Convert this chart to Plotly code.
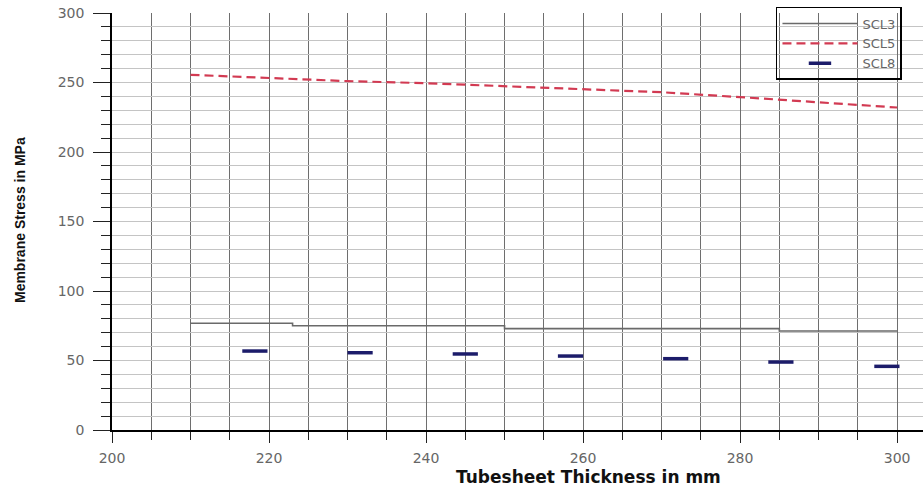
import plotly.graph_objects as go

# ---- data ----
scl3_x = [210, 223, 250, 285, 300]
scl3_y = [76.8, 75.0, 72.9, 71.2, 71.2]

scl5_x = [210, 220, 230, 240, 250, 260, 270, 280, 290, 300]
scl5_y = [255.5, 253.0, 251.0, 249.5, 247.5, 245.5, 243.0, 239.5, 235.8, 232.0]

scl8_x = [218.2, 231.6, 245.0, 258.4, 271.8, 285.2, 298.7]
scl8_y = [56.8, 55.6, 54.7, 53.2, 51.3, 48.9, 45.8]

series_names = ["SCL3", "SCL5", "SCL8"]

x_range = [200, 303.3]
y_range = [0, 300]

fig = go.Figure()

fig.add_trace(go.Scatter(
    x=scl3_x, y=scl3_y, name=series_names[0], mode="lines",
    line=dict(color="#6a6a6a", width=1.6, shape="hv"),
))
fig.add_trace(go.Scatter(
    x=scl5_x, y=scl5_y, name=series_names[1], mode="lines",
    line=dict(color="#d23a52", width=2.2, dash="9px,5px"),
))
fig.add_trace(go.Scatter(
    x=scl8_x, y=scl8_y, name=series_names[2], mode="markers",
    marker=dict(symbol="line-ew", size=18, color="#1c1c6a",
                line=dict(color="#1c1c6a", width=3.5)),
))

tick_font = dict(family="DejaVu Sans", size=14, color="#666666")

fig.update_xaxes(
    range=x_range, dtick=20, tick0=200,
    showline=True, linecolor="black", linewidth=1.5,
    ticks="outside", ticklen=11, tickwidth=1.2, tickcolor="#222222",
    showgrid=True, gridcolor="#6e6e6e", gridwidth=1,
    minor=dict(dtick=5, tick0=200, showgrid=True, gridcolor="#6e6e6e", gridwidth=1,
               ticks="outside", ticklen=8, tickcolor="#222222", tickwidth=1),
    tickfont=tick_font, zeroline=False, ticklabelstandoff=3,
)
fig.update_yaxes(
    range=y_range, dtick=50, tick0=0,
    showline=True, linecolor="black", linewidth=1.5,
    ticks="outside", ticklen=17, tickwidth=1.2, tickcolor="#222222",
    showgrid=True, gridcolor="#c4c4c4", gridwidth=1.2,
    minor=dict(dtick=10, tick0=0, showgrid=True, gridcolor="#c4c4c4", gridwidth=1.2,
               ticks="outside", ticklen=9, tickcolor="#222222", tickwidth=1),
    tickfont=tick_font, zeroline=False, ticklabelstandoff=6,
)

fig.update_layout(
    width=923, height=486,
    margin=dict(l=112, r=0, t=13, b=56),
    paper_bgcolor="white", plot_bgcolor="white",
    showlegend=True,
    legend=dict(
        x=0.8187, y=1.0144, xanchor="left", yanchor="top",
        bgcolor="rgba(255,255,255,0)", bordercolor="black", borderwidth=1.5,
        font=dict(family="DejaVu Sans", size=13, color="#666666"),
        itemwidth=75,
    ),
    annotations=[
        dict(text="<b>Tubesheet Thickness in mm</b>", xref="paper", yref="paper",
             x=0.587, y=-0.1127, xanchor="center", yanchor="middle", showarrow=False,
             font=dict(family="DejaVu Sans", size=17, color="#111111")),
        dict(text="<b>Membrane Stress in MPa</b>", xref="paper", yref="paper",
             x=-0.1134, y=0.5036, xanchor="center", yanchor="middle", showarrow=False,
             textangle=-90,
             font=dict(family="Liberation Sans", size=14, color="#111111")),
    ],
)

fig.write_html("out.html")
